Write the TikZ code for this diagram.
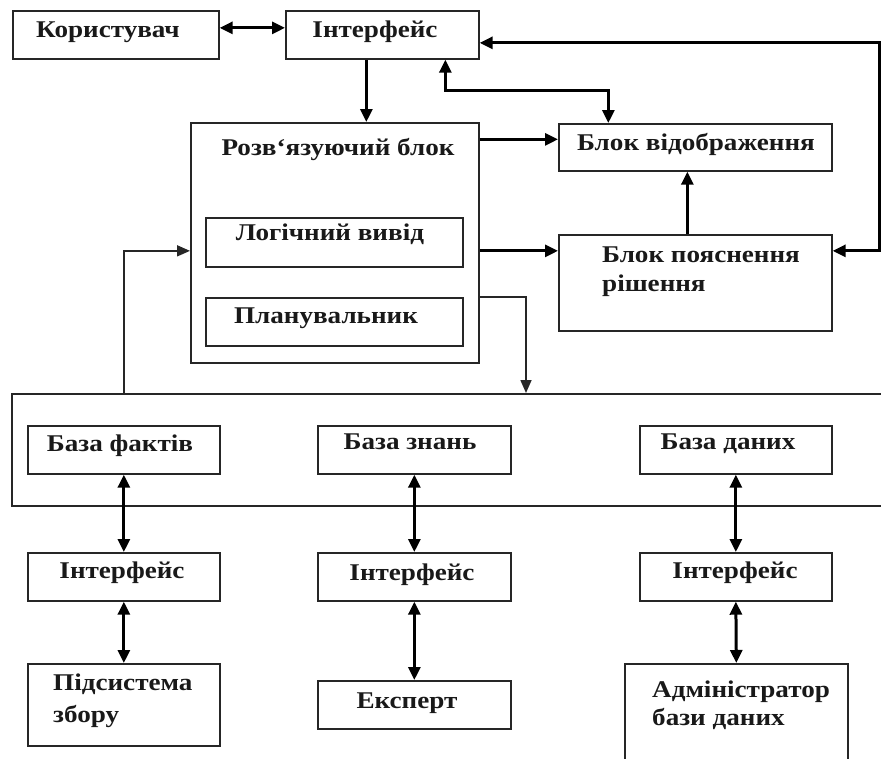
\documentclass[tikz,border=0pt]{standalone}
\usepackage{fontspec}
\setmainfont[FakeStretch=1.13]{Liberation Serif}
\usetikzlibrary{arrows.meta}
\tikzset{
  bx/.style={draw=black!85, line width=1.7pt, inner sep=0pt, anchor=north west, fill=none},
  lbl/.style={font=\fontsize{24}{30}\selectfont\bfseries, inner sep=0pt, text=black!90, anchor=base},
  lbll/.style={lbl, anchor=base west, align=left},
  tip/.style={Triangle[length=13pt,width=12pt]},
  arr/.style={line width=3pt, draw=black, -{Triangle[length=13pt,width=12pt]}},
  darr/.style={line width=3pt, draw=black, {Triangle[length=13pt,width=12pt]}-{Triangle[length=13pt,width=12pt]}},
  lin/.style={line width=1.6pt, draw=black!85, -{Triangle[length=13pt,width=11pt]}}
}
\newcommand\mybox[5]{\node[bx, minimum width=#4pt, minimum height=#5pt] (#1) at (#2,#3) {};}
\begin{document}
\begin{tikzpicture}[x=1pt,y=-1pt]
\useasboundingbox (0,0) rectangle (881,758);
\fill[white] (0,0) rectangle (881,758);
\clip (0,0) rectangle (881,758);
% boxes
\mybox{user}{12}{10}{206}{48}
\mybox{int1}{285}{10}{193}{48}
\mybox{solver}{190}{122}{288}{240}
\mybox{logic}{205}{217}{257}{49}
\mybox{plan}{205}{297}{257}{48}
\mybox{disp}{558}{123}{273}{47}
\mybox{expl}{558}{234}{273}{96}
\mybox{big}{11}{393}{900}{112}
\mybox{facts}{27}{425}{192}{48}
\mybox{know}{317}{425}{193}{48}
\mybox{data}{639}{425}{192}{48}
\mybox{intA}{27}{552}{192}{48}
\mybox{intB}{317}{552}{193}{48}
\mybox{intC}{639}{552}{192}{48}
\mybox{subsys}{27}{663}{192}{82}
\mybox{expert}{317}{680}{193}{48}
\mybox{admin}{624}{663}{223}{120}
% labels
\node[lbl] (tuser) at (108,37) {Користувач};
\node[lbl] (tint1) at (375,37) {Інтерфейс};
\node[lbl] (tsolver) at (338,155) {Розв‘язуючий блок};
\node[lbl] (tlogic) at (330,240) {Логічний вивід};
\node[lbl] (tplan) at (326,323) {Планувальник};
\node[lbl] (tdisp) at (696,150) {Блок відображення};
\node[lbll] (texpl1) at (602,262) {Блок пояснення};
\node[lbll] (texpl2) at (602,291) {рішення};
\node[lbl] (tfacts) at (120,451) {База фактів};
\node[lbl] (tknow) at (410,449) {База знань};
\node[lbl] (tdata) at (728,449) {База даних};
\node[lbl] (tintA) at (122,578) {Інтерфейс};
\node[lbl] (tintB) at (412,580) {Інтерфейс};
\node[lbl] (tintC) at (735,578) {Інтерфейс};
\node[lbll] (tsub1) at (53,690) {Підсистема};
\node[lbll] (tsub2) at (53,722) {збору};
\node[lbl] (texpert) at (407,708) {Експерт};
\node[lbll] (tadm1) at (652,697) {Адміністратор};
\node[lbll] (tadm2) at (652,725) {бази даних};
% helper coordinates
\coordinate (d1) at ([xshift=-16pt]int1.south);
\coordinate (u1) at ([xshift=63pt]int1.south);
\coordinate (d2) at ([xshift=-87pt]disp.north);
\coordinate (j) at (0,90);
\coordinate (r) at (879,0);
\coordinate (i1e) at ([yshift=-8pt]int1.east);
\coordinate (xe) at ([yshift=32pt]expl.east);
\coordinate (a1) at ([yshift=8pt]disp.west);
\coordinate (a2) at ([yshift=32pt]expl.west);
\coordinate (a3) at ([xshift=-8pt]expl.north);
\coordinate (px) at (526,0);
\coordinate (qx) at (124,0);
% connectors
\draw[darr] ([yshift=7pt]user.east) -- ([yshift=7pt]int1.west);
\draw[arr] (d1) -- (d1 |- solver.north);
\draw[darr] (u1) -- (u1 |- j) -- (d2 |- j) -- (d2);
\draw[darr] (i1e) -- (i1e -| r) -- (xe -| r) -- (xe);
\draw[arr] (a1 -| solver.east) -- (a1);
\draw[arr] (a2 -| solver.east) -- (a2);
\draw[arr] (a3) -- (a3 |- disp.south);
\draw[lin] (solver.east |- plan.north) -| (px |- big.north);
\draw[lin] (qx |- big.north) |- (solver.west |- a2);
\draw[darr] (facts.south) -- (intA.north);
\draw[darr] (know.south) -- (intB.north);
\draw[darr] (data.south) -- (intC.north);
\draw[darr] (intA.south) -- (subsys.north);
\draw[darr] (intB.south) -- (expert.north);
\draw[darr] (intC.south) -- (admin.north);
\end{tikzpicture}
\end{document}
